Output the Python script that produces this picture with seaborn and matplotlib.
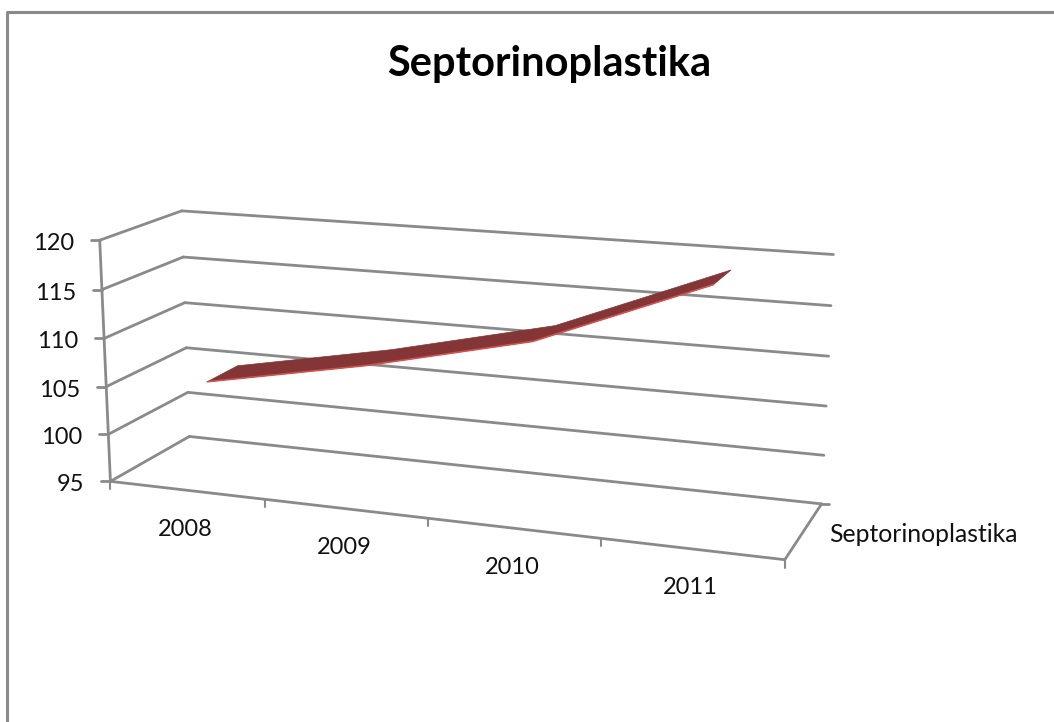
import numpy as np
import pandas as pd
import matplotlib
matplotlib.use("Agg")
import matplotlib.pyplot as plt
import seaborn as sns

TITLE = "Septorinoplastika"
years = ["2008", "2009", "2010", "2011"]
values = [105.0, 108.2, 112.1, 118.9]
value_ticks = [95, 100, 105, 110, 115, 120]

sns.set_theme(style="white")
plt.rcParams["font.family"] = ["Lato", "DejaVu Sans"]
GRID = "#8a8a8a"
TXT = "#111111"

# camera of the pseudo-3D chart: world (category, value, depth) -> picture pixels
vmin, vmax = value_ticks[0], value_ticks[-1]
ref = [
    (0, 95, 0, 111, 481), (0, 120, 0, 100, 240), (0, 105, 0, 106, 385.5),
    (0, 95, 1, 189.5, 436.5), (0, 120, 1, 181.5, 211), (0, 105, 1, 186, 348),
    (4, 95, 1, 821, 503), (4, 120, 1, 833, 255), (4, 105, 1, 827.5, 406),
    (4, 95, 0, 785, 558), (1, 95, 0, 265, 499.5), (2, 95, 0, 428, 520), (3, 95, 0, 601, 540),
]
A = []
for x, v, d, u, w in ref:
    p = [x, (v - vmin) / (vmax - vmin), d, 1]
    A.append(p + [0, 0, 0, 0] + [-u * c for c in p])
    A.append([0, 0, 0, 0] + p + [-w * c for c in p])
M = np.linalg.svd(np.array(A, float))[2][-1].reshape(3, 4)


def proj(x, v, d):
    h = M @ np.array([x, (v - vmin) / (vmax - vmin), d, 1.0])
    return h[0] / h[2], h[1] / h[2]


fig = plt.figure(figsize=(10.54, 7.22), dpi=100)
ax = fig.add_axes([0, 0, 1, 1])
ax.set_xlim(0, 1054)
ax.set_ylim(722, 0)
ax.axis("off")


def seg(a, b, lw=2.0, color=GRID):
    ax.plot([a[0], b[0]], [a[1], b[1]], color=color, lw=lw, solid_capstyle="round", zorder=1)


# chart frame
ax.plot([6.5, 6.5, 1054], [722, 12, 12], color=GRID, lw=2.2, zorder=1)

n = len(years)
for v in value_ticks:
    f = proj(0, v, 0)
    b = proj(0, v, 1)
    r = proj(n, v, 1)
    seg((f[0] - 9, f[1]), f)
    seg(f, b)
    seg(b, r)
    ax.text(f[0] - 26, f[1] + 3.5, str(v), ha="right", va="center", fontsize=17, color=TXT)
seg(proj(0, vmin, 0), proj(0, vmax, 0))
seg(proj(0, vmin, 0), proj(n, vmin, 0))
seg(proj(n, vmin, 0), proj(n, vmin, 1))
e = proj(n, vmin, 1)
seg(e, (e[0] + 7, e[1]))
for i in range(n + 1):
    t = proj(i, vmin, 0)
    seg(t, (t[0], t[1] + 8), lw=1.5)
for i, y in enumerate(years):
    t = proj(i + 0.5, vmin, 0)
    ax.text(t[0] - 1, t[1] + 39, y, ha="center", va="center", fontsize=17, color=TXT)

# the line as a ribbon between two depths
D0, D1 = 0.30, 0.70
front = [proj(i + 0.5, v, D0) for i, v in enumerate(values)]
back = [proj(i + 0.5, v, D1) for i, v in enumerate(values)]
ribbon = front + back[::-1]
ax.fill([p[0] for p in ribbon], [p[1] for p in ribbon], color="#843535", lw=0.5, zorder=2)
edge = pd.DataFrame({"px": [p[0] for p in front], "py": [p[1] for p in front], "year": years})
sns.lineplot(data=edge, x="px", y="py", sort=False, estimator=None, color="#cf5350",
             lw=1.2, ax=ax, zorder=3)
ax.set_xlim(0, 1054)
ax.set_ylim(722, 0)
ax.axis("off")

ax.text(549, 64, TITLE, ha="center", va="center", fontsize=30, fontweight="bold", color="#000000")
ax.text(829, 534, TITLE, ha="left", va="center", fontsize=17.8, color=TXT)

fig.savefig("out.png", dpi=100)
